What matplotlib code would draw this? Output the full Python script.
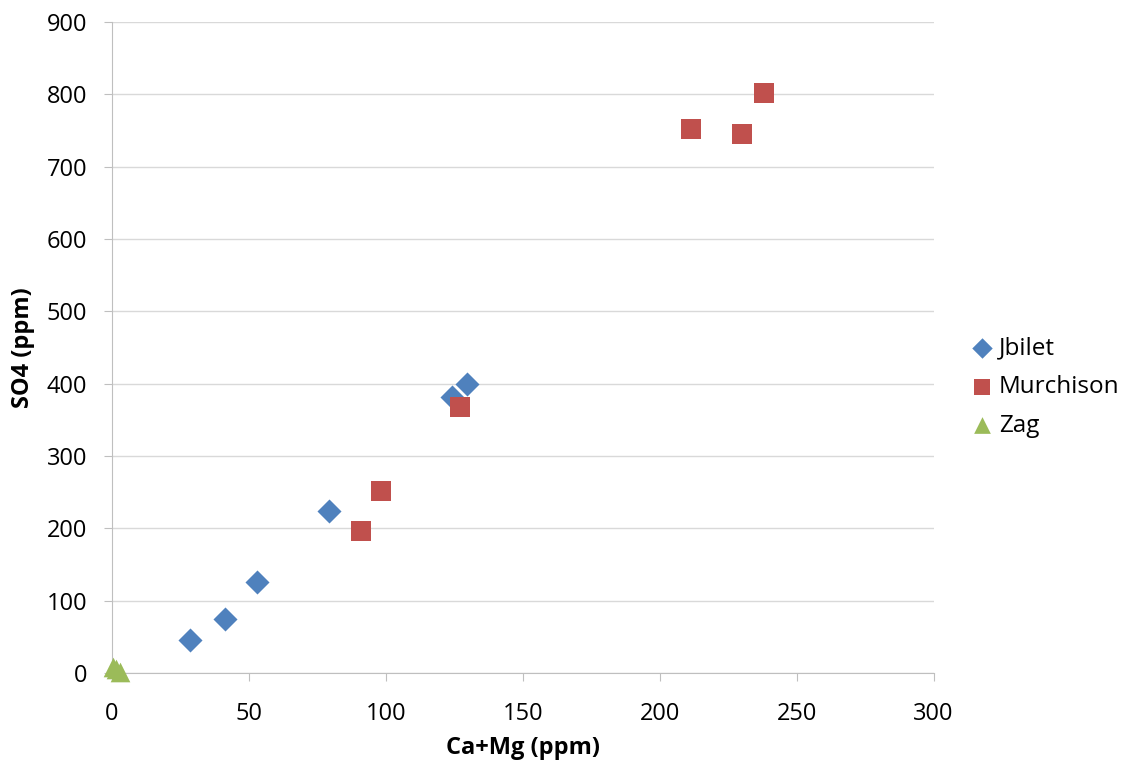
import matplotlib
matplotlib.use("Agg")
import matplotlib.pyplot as plt

plt.rcParams['font.family'] = ['Open Sans', 'DejaVu Sans']

jbilet_x = [28.5, 41.2, 52.9, 79.2, 124.1, 129.6]
jbilet_y = [45.6, 74.7, 125.8, 224.0, 381.0, 399.0]
murch_x = [90.9, 98.2, 127.0, 211.3, 229.9, 238.0]
murch_y = [196.0, 251.5, 368.0, 752.0, 745.5, 802.0]
zag_x = [0.5, 1.5, 3.0]
zag_y = [8.0, 5.0, 2.0]

fig = plt.figure(figsize=(11.33, 7.65), dpi=100)
ax = fig.add_axes([0.0989, 0.1203, 0.7251, 0.8509])

ax.scatter(jbilet_x, jbilet_y, marker='D', s=150, color='#4F81BD', label='Jbilet', zorder=3, linewidths=0, clip_on=False)
ax.scatter(murch_x, murch_y, marker='s', s=190, color='#C0504D', label='Murchison', zorder=3, linewidths=0, clip_on=False)
ax.scatter(zag_x, zag_y, marker='^', s=200, color='#9BBB59', label='Zag', zorder=3, linewidths=0, clip_on=False)

ax.set_xlim(0, 300)
ax.set_ylim(0, 900)
ax.set_xticks(range(0, 301, 50))
ax.set_yticks(range(0, 901, 100))
ax.yaxis.grid(True, color='#D9D9D9', linewidth=1)
ax.set_axisbelow(True)
for s in ['top', 'right']:
    ax.spines[s].set_visible(False)
for s in ['left', 'bottom']:
    ax.spines[s].set_color('#BFBFBF')
ax.tick_params(axis='both', labelsize=17, colors='#000000')
ax.tick_params(axis='x', length=6, color='#BFBFBF', direction='out', pad=15)
ax.tick_params(axis='y', length=6, color='#BFBFBF', direction='out', pad=12)

ax.set_xlabel('Ca+Mg (ppm)', fontsize=17, fontweight='bold', labelpad=7)
ax.set_ylabel('SO4 (ppm)', fontsize=17, fontweight='bold', labelpad=8)

leg = ax.legend(loc='center left', bbox_to_anchor=(1.044, 0.439), frameon=False, fontsize=17.5,
                handletextpad=0.2, labelspacing=0.6, markerscale=0.85, scatterpoints=1,
                handlelength=1.0, borderpad=0, borderaxespad=0)

fig.savefig('out.png', dpi=100)
